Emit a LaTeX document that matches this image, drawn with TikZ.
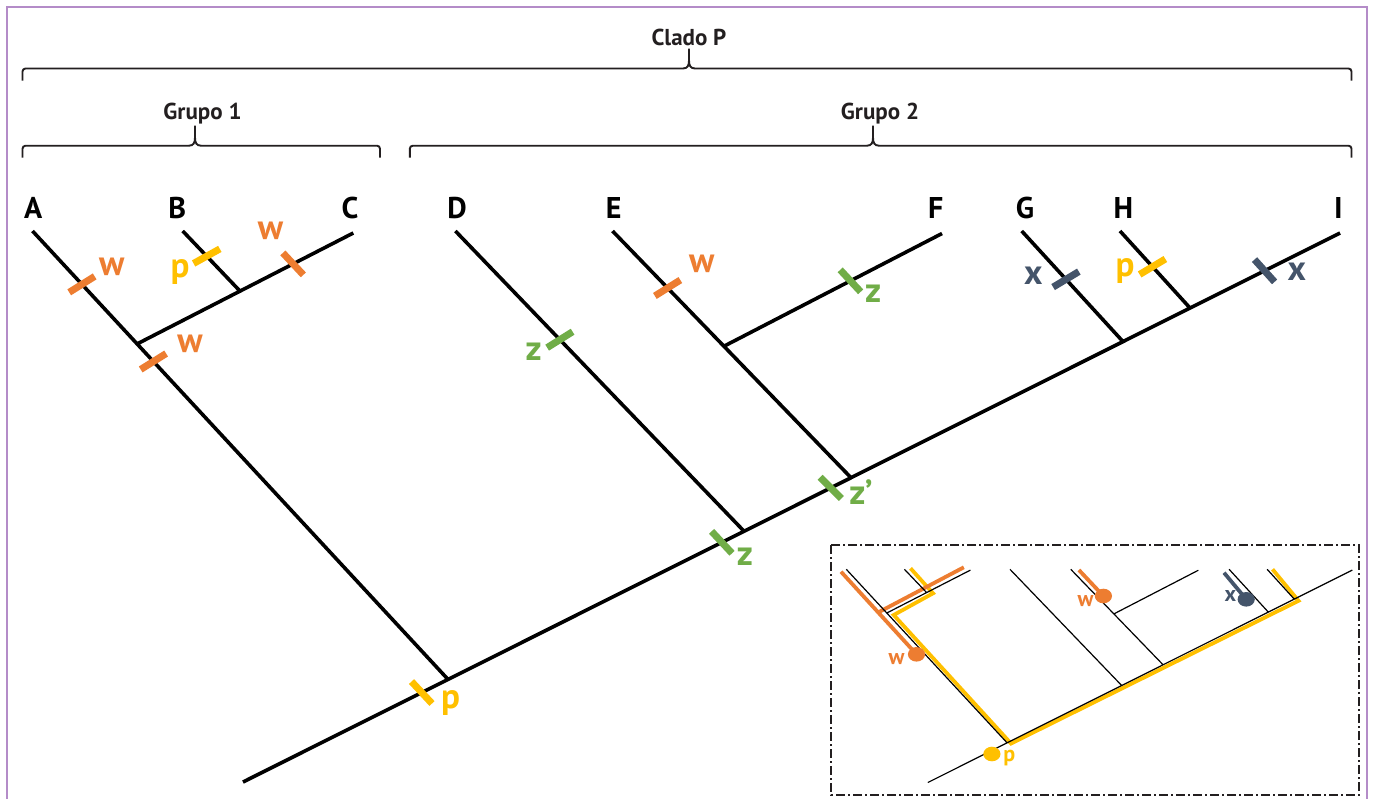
\documentclass[tikz,border=0pt]{standalone}
\usepackage{fontspec}
\setmainfont{PT Sans}
\definecolor{worange}{HTML}{ED7D31}
\definecolor{pyellow}{HTML}{FFC000}
\definecolor{zgreen}{HTML}{70AD47}
\definecolor{xslate}{HTML}{44546A}
\definecolor{framepurple}{HTML}{B48CC8}
\definecolor{inkdark}{HTML}{231F20}

\newcommand\treecoords[1]{%
  \coordinate (#1A) at (32.5,231);
  \coordinate (#1B) at (182.7,231);
  \coordinate (#1C) at (353.3,233);
  \coordinate (#1D) at (455.4,231);
  \coordinate (#1E) at (612.5,231);
  \coordinate (#1F) at (942,233.5);
  \coordinate (#1G) at (1021.7,231);
  \coordinate (#1H) at (1120,231);
  \coordinate (#1I) at (1340,233);
  \coordinate (#1R) at (243,782);
  \coordinate (#1nA) at (448,679.4);
  \coordinate (#1nBC) at (138.3,343.3);
  \coordinate (#1nB) at (240,291.1);
  \coordinate (#1nD) at (744,531.2);
  \coordinate (#1nEF) at (851,477.7);
  \coordinate (#1nE) at (724,346.2);
  \coordinate (#1nG) at (1123,341.6);
  \coordinate (#1nH) at (1190,308);
}
\newcommand\treeedges[1]{%
  (#1R) -- (#1I)
  (#1A) -- (#1nA)
  (#1nBC) -- (#1C)
  (#1B) -- (#1nB)
  (#1D) -- (#1nD)
  (#1E) -- (#1nEF)
  (#1nE) -- (#1F)
  (#1G) -- (#1nG)
  (#1H) -- (#1nH)
}
\newcommand\bracedraw[5]{% x1, xm, x2, y, cusp
  \draw[bracestyle] (#1,#4+12) -- (#1,#4+3) to[out=90,in=180] (#1+3,#4)
    -- (#2-6,#4) .. controls (#2-1.5,#4) and (#2,#4-3) .. (#2,#4-8) -- (#2,#4-#5)
    -- (#2,#4-8) .. controls (#2,#4-3) and (#2+1.5,#4) .. (#2+6,#4)
    -- (#3-3,#4) to[out=0,in=90] (#3,#4+3) -- (#3,#4+12);
}

\begin{document}
\begin{tikzpicture}[x=1pt,y=-1pt,
  branch/.style={line width=3.6, black},
  thinbranch/.style={line width=1.2, black},
  markbar/.style={fill=#1, draw=none, inner sep=0, outer sep=0, minimum width=30, minimum height=7},
  tiplab/.style={font=\bfseries\fontsize{30}{31}\selectfont, anchor=base, inner sep=0},
  marklab/.style={font=\bfseries\fontsize{35}{36}\selectfont, anchor=mid, inner sep=0, text=#1},
  grouplab/.style={font=\bfseries\fontsize{23}{25}\selectfont, anchor=base, inner sep=0, text=inkdark},
  bracestyle/.style={line width=1.9, inkdark},
  hilite/.style={line width=3.8, draw=#1},
  insetlab/.style={font=\bfseries\fontsize{22}{24}\selectfont, anchor=mid, inner sep=0, text=#1},
  insetframe/.style={line width=1.7, inkdark, dash pattern=on 9pt off 3pt on 2pt off 3pt}
]
\useasboundingbox (0,0) rectangle (1375,798);
\fill[white] (0,0) rectangle (1375,798);

% outer frame
\draw[line width=2.6, framepurple] (7,800) -- (7,7) -- (1367,7) -- (1367,800);

% braces and group labels
\bracedraw{22.5}{689}{1351.5}{68.5}{20}
\bracedraw{22.5}{195}{380}{145.7}{20}
\bracedraw{409.8}{873}{1351.5}{145.7}{20}
\node[grouplab] (clado) at (689,45) {Clado P};
\node[grouplab] (g1) at (202.5,119.3) {Grupo 1};
\node[grouplab] (g2) at (880,119.3) {Grupo 2};

% main tree
\treecoords{m}
\draw[branch] \treeedges{m};

% tip labels
\node[tiplab] (lA) at (33.3,218.3) {A};
\node[tiplab] (lB) at (177.3,218.3) {B};
\node[tiplab] (lC) at (350,218.3) {C};
\node[tiplab] (lD) at (457,218.3) {D};
\node[tiplab] (lE) at (613.6,218.3) {E};
\node[tiplab] (lF) at (935.7,218.3) {F};
\node[tiplab] (lG) at (1025,218.3) {G};
\node[tiplab] (lH) at (1123.3,218.3) {H};
\node[tiplab] (lI) at (1338.3,218.3) {I};

% character marks
\path (mA) -- (mnA) node[markbar=worange, rotate=32, pos=0.119] (kA1) {}
                    node[markbar=worange, rotate=32, pos=0.291] (kA2) {};
\path (mB) -- (mnB) node[markbar=pyellow, rotate=29, pos=0.419] (kB) {};
\path (mnBC) -- (mC) node[markbar=worange, rotate=-47, pos=0.72] (kC) {};
\path (mD) -- (mnD) node[markbar=zgreen, rotate=32, pos=0.362] (kD) {};
\path (mE) -- (mnEF) node[markbar=worange, rotate=32, pos=0.231] (kE) {};
\path (mnE) -- (mF) node[markbar=zgreen, rotate=-47, pos=0.58] (kF) {};
\path (mG) -- (mnG) node[markbar=xslate, rotate=31, pos=0.437] (kG) {};
\path (mH) -- (mnH) node[markbar=pyellow, rotate=31, pos=0.464] (kH) {};
\path (mnH) -- (mI) node[markbar=xslate, rotate=-48, pos=0.497] (kI) {};
\path (mnD) -- (mnEF) node[markbar=zgreen, rotate=-45, pos=0.81] (kZp) {};
\path (mnA) -- (mnD) node[markbar=zgreen, rotate=-47, pos=0.925] (kZ) {};
\path (mR) -- (mnA) node[markbar=pyellow, rotate=-47, pos=0.872] (kP) {};

% mark labels
\node[marklab=worange] (tA1) at (111.7,273) {w};
\node[marklab=worange] (tA2) at (190,350) {w};
\node[marklab=pyellow] (tB) at (180,275) {p};
\node[marklab=worange] (tC) at (270.5,237) {w};
\node[marklab=zgreen] (tD) at (533.7,357.5) {z};
\node[marklab=worange] (tE) at (701.8,270) {w};
\node[marklab=zgreen] (tF) at (873.2,300) {z};
\node[marklab=xslate] (tG) at (1033.3,281.7) {x};
\node[marklab=pyellow] (tH) at (1125,274) {p};
\node[marklab=xslate] (tI) at (1296.7,278) {x};
\node[marklab=zgreen] (tZp) at (861,501.5) {z’};
\node[marklab=zgreen] (tZ) at (745,563) {z};
\node[marklab=pyellow] (tP) at (450.5,706) {p};

% inset frame
\draw[insetframe] (831,545) rectangle (1359,795);

% inset highlights
\coordinate (y1) at (910.5,568.3);
\coordinate (y2) at (933,593.3);
\coordinate (y3) at (893.7,615);
\coordinate (y4) at (1011,743.5);
\coordinate (y5) at (1298.5,600.8);
\coordinate (y6) at (1272.5,569.3);
\draw[hilite=pyellow] (y1) -- (y2) -- (y3) -- (y4) -- (y5) -- (y6);
\coordinate (o1a) at (841,571.7);
\coordinate (o1b) at (916.5,654.3);
\coordinate (o2a) at (879.6,611.7);
\coordinate (o2b) at (963.8,567.3);
\coordinate (o3a) at (1078.9,570);
\coordinate (o3b) at (1103.4,596);
\coordinate (s1a) at (1224,572.7);
\coordinate (s1b) at (1246.2,599.3);
\draw[hilite=worange] (o1a) -- (o1b);
\draw[hilite=worange] (o2a) -- (o2b);
\draw[hilite=worange] (o3a) -- (o3b);
\draw[hilite=xslate] (s1a) -- (s1b);

% inset tree
\begin{scope}[shift={(846.3,569.3)}, scale=0.387, shift={(-32.5,-231)}]
  \treecoords{s}
  \draw[thinbranch] \treeedges{s};
\end{scope}

% inset dots and labels
\fill[worange] (o1b) ellipse [x radius=8.6, y radius=7.3];
\fill[worange] (o3b) ellipse [x radius=8.6, y radius=7.3];
\fill[xslate] (s1b) ellipse [x radius=8.6, y radius=7.3];
\coordinate (pdot) at (991.9,754);
\fill[pyellow] (pdot) ellipse [x radius=8.6, y radius=7.3];
\node[insetlab=worange] (iw1) at (896.5,661.7) {w};
\node[insetlab=worange] (iw2) at (1085.5,604) {w};
\node[insetlab=xslate] (ix) at (1230.4,599) {x};
\node[insetlab=pyellow] (ip) at (1009.4,759) {p};
\end{tikzpicture}
\end{document}
